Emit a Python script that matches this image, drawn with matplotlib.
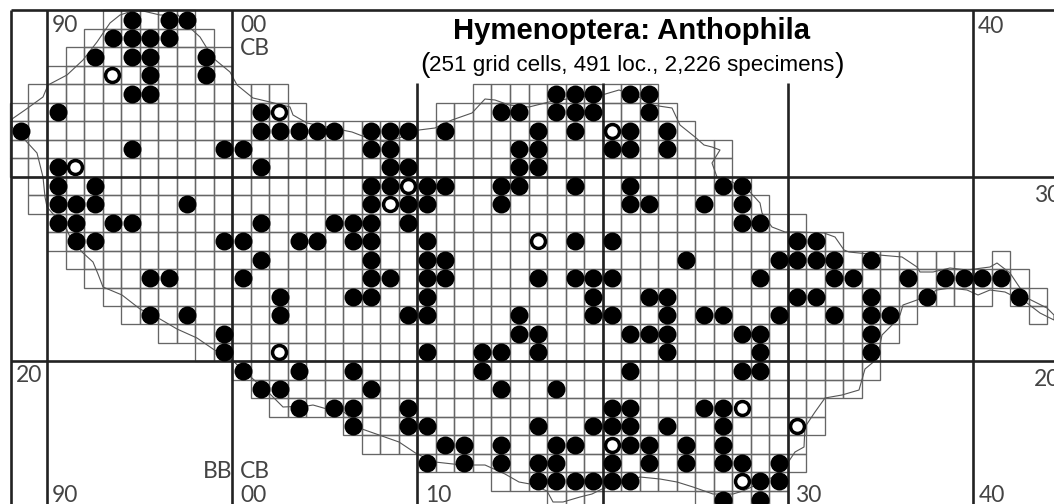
import numpy as np
import matplotlib.pyplot as plt
from matplotlib.patches import Rectangle

# grid cells with records, row number -> column number (10 cells = 10 km square)
filled_rows = list(range(-9, 18))
filled_cols = [
    [4, 6, 7],
    [3, 4, 5, 6],
    [2, 4, 5, 8],
    [5, 8],
    [4, 5, 27, 28, 29, 31, 32],
    [0, 11, 24, 25, 27, 28, 29, 32],
    [-2, 11, 12, 13, 14, 15, 17, 18, 19, 21, 26, 28, 31, 33],
    [4, 9, 10, 17, 18, 25, 26, 30, 31, 33],
    [0, 11, 18, 19, 25, 26],
    [0, 2, 17, 18, 20, 21, 24, 25, 28, 31, 36, 37],
    [0, 1, 2, 7, 17, 19, 20, 24, 31, 32, 35, 37],
    [0, 1, 3, 4, 11, 15, 16, 17, 19, 37, 38],
    [1, 2, 9, 10, 13, 14, 16, 17, 20, 28, 30, 40, 41],
    [11, 17, 20, 21, 34, 39, 40, 41, 42, 44],
    [5, 6, 10, 17, 18, 20, 21, 26, 28, 29, 30, 38, 42, 43, 46, 48, 49, 50, 51],
    [12, 16, 17, 20, 29, 32, 33, 40, 41, 44, 47, 52],
    [5, 7, 12, 19, 20, 25, 29, 30, 33, 35, 36, 39, 42, 44, 45],
    [9, 25, 26, 31, 32, 33, 37, 38, 44],
    [9, 20, 23, 24, 26, 33, 38, 44],
    [10, 13, 16, 23, 31, 37, 38],
    [11, 12, 17, 24, 27],
    [13, 15, 16, 19, 30, 31, 35, 36],
    [16, 19, 20, 26, 29, 30, 31, 33, 36],
    [21, 22, 24, 27, 28, 31, 32, 34, 36],
    [20, 22, 24, 26, 27, 30, 32, 34, 36, 37, 39],
    [26, 27, 28, 29, 30, 31, 38, 39],
    [36, 38],
]
open_rows = [-6, -4, -3, -1, 0, 1, 3, 9, 12, 13, 14, 16]
open_cols = [3, 12, 30, 1, 19, 18, 26, 12, 37, 40, 30, 37]

# extent of the cell grid in each row (first col, last col)
grid_rows = filled_rows
grid_spans = [
    [(3, 7)], [(2, 8)], [(1, 9)], [(0, 9)],
    [(-1, 12), (23, 32)], [(-2, 13), (21, 33)],
    [(-2, 34)], [(-2, 36)], [(-2, 36)],
    [(-1, 37)], [(-1, 38)], [(0, 40)], [(0, 42)],
    [(1, 49), (51, 51)], [(2, 52)], [(3, 50), (52, 53)], [(4, 46), (53, 53)],
    [(6, 45)], [(8, 44)], [(10, 44)], [(11, 43)], [(12, 41)], [(16, 41)],
    [(17, 40)], [(20, 40)], [(24, 39)], [(27, 29), (35, 39)],
]

# coastline
coast_x = np.array([12, 25, 43, 48, 67, 83, 97, 110, 120, 132, 143, 160, 178, 187, 200, 213, 230, 237,
                    253, 270, 290, 293, 307, 352, 365, 385, 402, 419, 435, 452, 472, 485, 495, 509,
                    529, 549, 579, 602, 619, 639, 652, 672, 680, 695, 704, 712, 720, 712, 717, 732,
                    750, 760, 762, 772, 785, 798, 824, 835, 844, 849, 879, 902, 917, 920, 933, 950,
                    967, 990, 997, 1010, 1018, 1027, 1037, 1047, 1054, 1054, 1040, 1027, 1005, 990,
                    978, 967, 950, 937, 917, 903, 900, 892, 882, 877, 865, 859, 842, 825, 815, 805,
                    804, 795, 787, 773, 743, 733, 713, 693, 677, 660, 640, 602, 592, 580, 563, 553,
                    547, 530, 519, 505, 485, 462, 435, 417, 399, 379, 362, 343, 327, 313, 307, 283,
                    270, 253, 233, 213, 197, 177, 160, 140, 122, 103, 98, 93, 82, 70, 67, 47, 45, 43,
                    37, 25, 12, 12])
coast_y = np.array([119, 110, 97, 85, 75, 60, 42, 23, 15, 11, 11, 15, 15, 25, 37, 58, 72, 85,
                    98, 102, 107, 115, 123, 132, 137, 142, 137, 130, 128, 120, 113, 99, 100, 105,
                    107, 102, 97, 95, 90, 97, 105, 108, 125, 137, 145, 147, 150, 163, 177, 182,
                    192, 203, 213, 227, 232, 232, 233, 237, 250, 252, 255, 257, 267, 272, 272, 268,
                    270, 267, 263, 273, 285, 298, 303, 308, 315, 320, 313, 303, 292, 290,
                    295, 290, 288, 290, 300, 305, 315, 325, 335, 359, 369, 390, 395, 398, 412, 427,
                    447, 452, 464, 477, 491, 494, 494, 487, 482, 479, 477, 489, 494, 497, 502, 502,
                    491, 484, 482, 474, 465, 465, 462, 454, 442, 435, 429, 411, 409, 405, 406, 407,
                    394, 379, 361, 349, 338, 329, 319, 309, 295, 287, 274, 262, 252, 237, 230, 207, 197, 177,
                    153, 140, 127, 119])

# grid labels on the map frame
label_text = ['90', '00', 'CB', '40', '30', '20', '20', 'BB', 'CB', '90', '00', '10', '30', '40']
label_x = [52, 240, 240, 978, 1034, 16, 1034, 203, 240, 52, 240, 425, 795, 979]
label_y = [32, 32, 55, 33, 202, 382, 386, 478, 478, 502, 502, 502, 502, 502]

cw, ch = 18.52, 18.47
x0, y0 = 47.0, 176.7

fig = plt.figure(figsize=(10.54, 5.04), dpi=100)
ax = fig.add_axes([0, 0, 1, 1])
ax.set_xlim(-x0 / cw, (1054 - x0) / cw)
ax.set_ylim((504 - y0) / ch, -y0 / ch)
ax.axis('off')

for r, spans in zip(grid_rows, grid_spans):
    for a, b in spans:
        for c in range(a, b + 1):
            ax.add_patch(Rectangle((c, r), 1, 1, fc='none', ec='#666666', lw=0.95, zorder=1))

ax.plot((coast_x - x0) / cw, (coast_y - y0) / ch, color='#555555', lw=0.8, zorder=2)

# 10 km lines
dark = '#222222'
ax.hlines([-9, 0, 10], -1.95, 60, color=dark, lw=1.9, zorder=3)
ax.vlines(-1.95, -9, 20, color=dark, lw=1.9, zorder=3)
ax.vlines([0, 10, 50], -9, 20, color=dark, lw=1.9, zorder=3)
ax.vlines([20, 30, 40], -5.05, 20, color=dark, lw=1.9, zorder=3)

# the dots sit a little east of the cell centre in the western part of the map
fx, fy = [], []
for r, cols in zip(filled_rows, filled_cols):
    for c in cols:
        fx.append(c + 0.5 + (0.08 if c < 15 else 0))
        fy.append(r + 0.5)
ax.scatter(fx, fy, s=168, color='black', lw=0, zorder=4)
ax.scatter(np.array(open_cols) + 0.5, np.array(open_rows) + 0.5, s=100, facecolor='white',
           edgecolor='black', lw=2.5, zorder=4)

for t, x, y in zip(label_text, label_x, label_y):
    fig.text(x / 1054, 1 - y / 504, t, family='Lato', fontsize=16.5, color='#444444',
             ha='left', va='baseline', zorder=5)

fig.text(632 / 1054, 1 - 31 / 504, 'Hymenoptera: Anthophila', family='Liberation Sans', weight='bold',
         fontsize=21.1, ha='center', va='center', color='black')
fig.text(632 / 1054, 1 - 65 / 504, '251 grid cells, 491 loc., 2,226 specimens', family='Liberation Sans',
         fontsize=16.1, ha='center', va='center', color='black')
fig.text(424.5 / 1054, 1 - 65 / 504, '(', family='Liberation Sans', fontsize=20.5, ha='center', va='center')
fig.text(840 / 1054, 1 - 65 / 504, ')', family='Liberation Sans', fontsize=20.5, ha='center', va='center')

fig.savefig('out.png', dpi=100)
